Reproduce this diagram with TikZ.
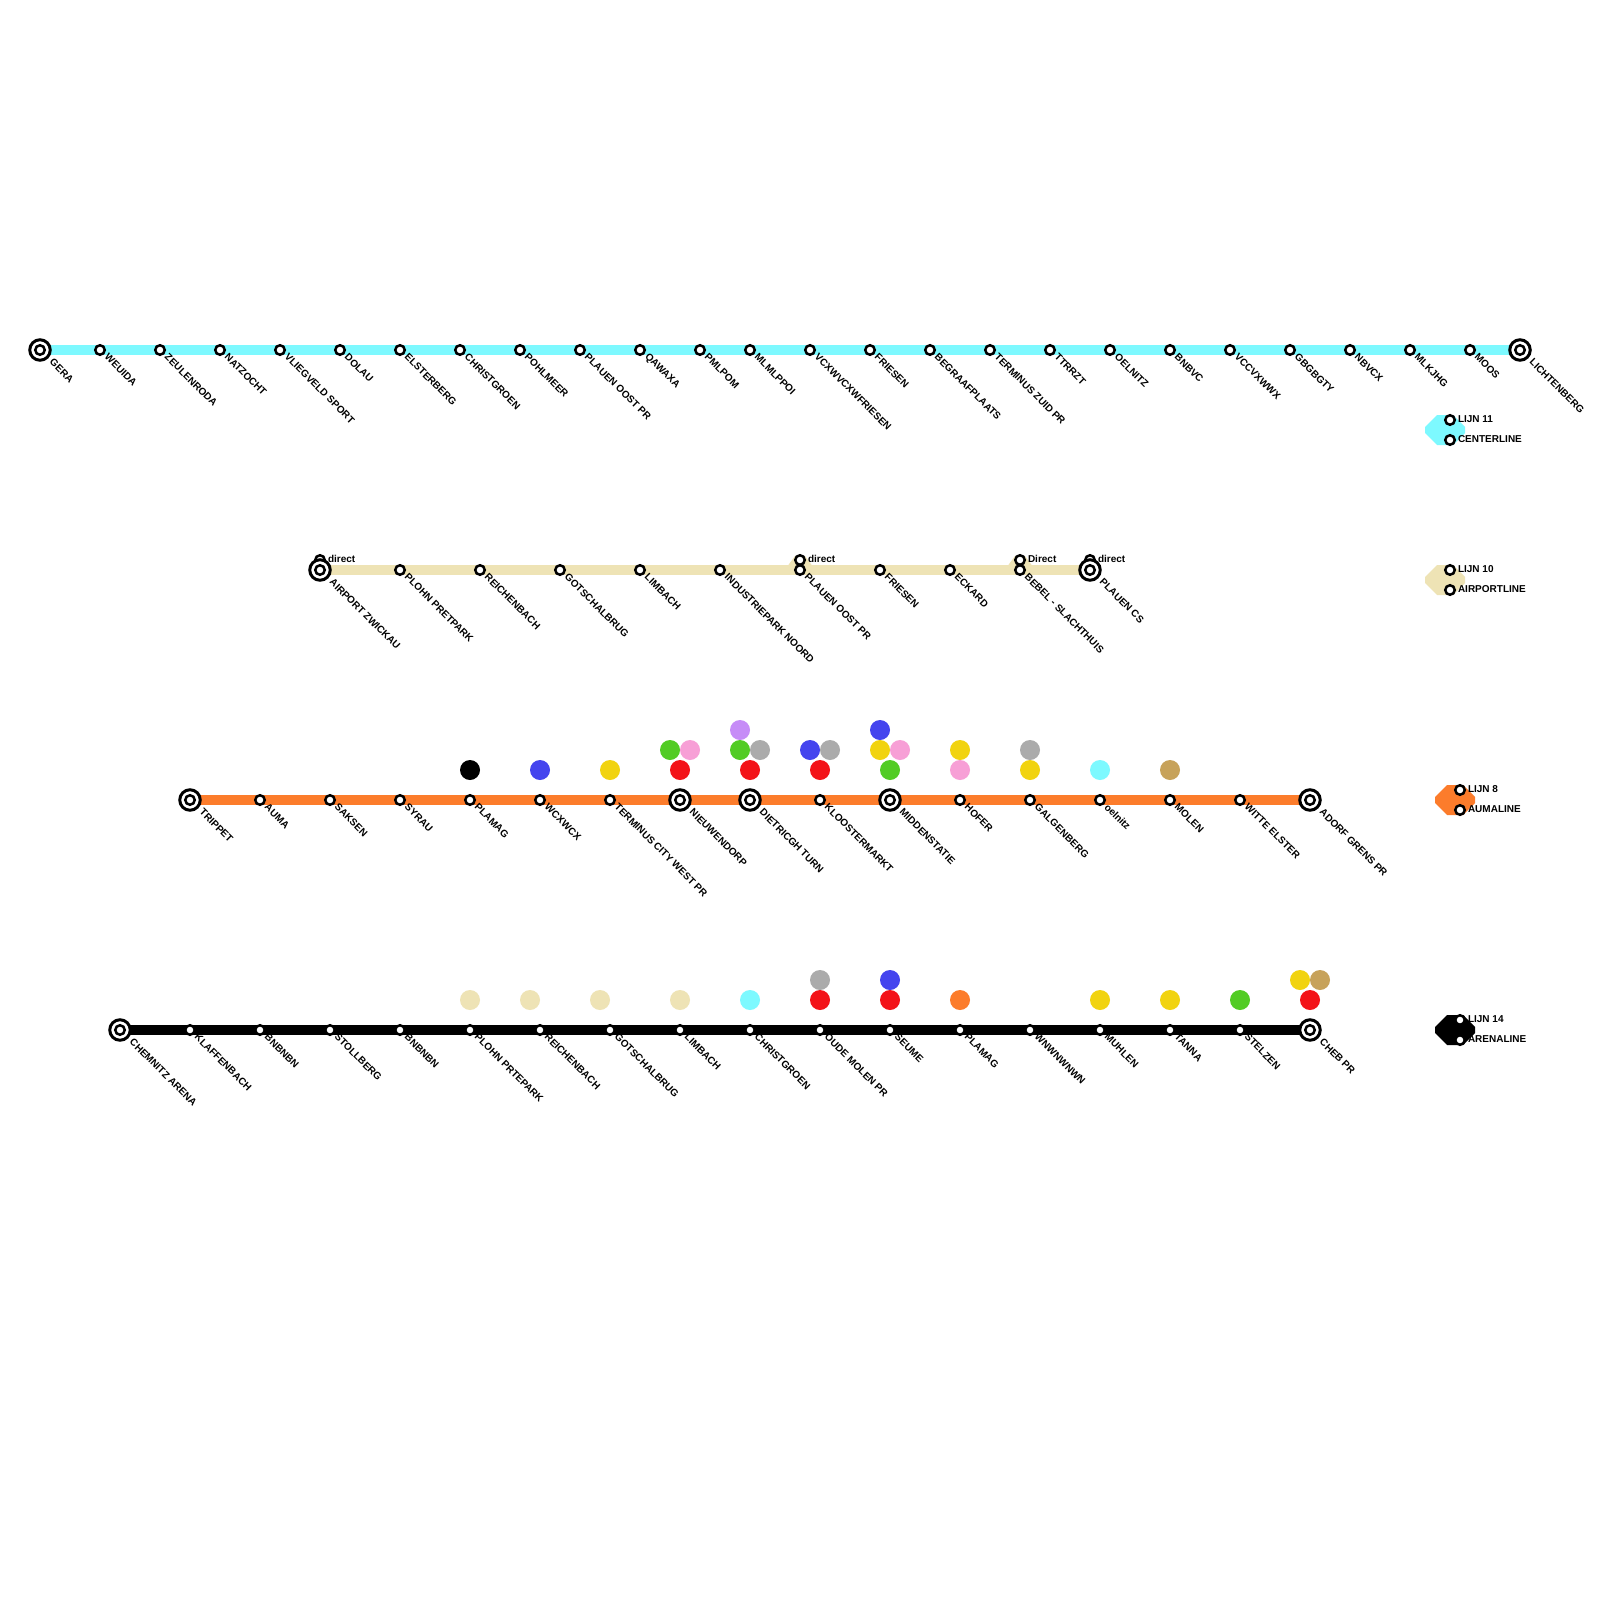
\documentclass[tikz,border=0pt]{standalone}
\usepackage{fontspec}
\setmainfont{Liberation Sans}
\usetikzlibrary{backgrounds}
\definecolor{lcyan}{HTML}{7DF9FF}
\definecolor{lbeige}{HTML}{EEE3B5}
\definecolor{lorange}{HTML}{FC7C2B}
\definecolor{lred}{HTML}{F31318}
\definecolor{lgreen}{HTML}{52CC24}
\definecolor{lpink}{HTML}{F79FD6}
\definecolor{lgray}{HTML}{ABABAB}
\definecolor{lblue}{HTML}{4444EE}
\definecolor{lpurple}{HTML}{C68CF7}
\definecolor{lyellow}{HTML}{F1D30F}
\definecolor{ltan}{HTML}{C7A25A}
\tikzset{
  stopmark/.style={circle,draw=black,fill=white,line width=2.5pt,minimum size=9.5pt,inner sep=0pt,outer sep=0pt},
  hub/.style={circle,draw=black,fill=white,line width=3pt,minimum size=20.5pt,inner sep=0pt,outer sep=0pt},
  txt/.style={font=\fontsize{10pt}{10pt}\selectfont\bfseries,inner sep=0pt,outer sep=0pt,text=black},
  slanted/.style={txt,rotate=-45,anchor=west},
  side/.style={txt,anchor=west},
  colourdot/.style={circle,inner sep=0pt,outer sep=0pt,minimum size=20pt},
  track/.style={line width=10pt},
}
\newcommand{\stoprow}[3]{% prefix, y, list
  \foreach \k/\px/\lbl in {#3}{
    \node[stopmark] (#1\k) at (\px,#2) {};
    \node[slanted] (#1\k t) at (\px+6.5,#2+5.5) {\lbl};
  }}
\newcommand{\hubrow}[3]{%
  \foreach \k/\px/\lbl in {#3}{
    \node[hub] (#1\k) at (\px,#2) {};
    \node[stopmark] (#1\k i) at (\px,#2) {};
    \node[slanted] (#1\k t) at (\px+11.5,#2+10.5) {\lbl};
  }}
\newcommand{\dotrow}[1]{%
  \foreach \n/\cx/\cy/\c in {#1}{
    \node[colourdot,fill=\c] (\n) at (\cx,\cy) {};
  }}
\newcommand{\legendbox}[7]{% prefix,cx,cy,colour,sx,label1,label2
  \fill[#4] (#2-20,#3-3) -- (#2-8,#3-15) -- (#2+8,#3-15) -- (#2+20,#3-3) -- (#2+20,#3+3) -- (#2+8,#3+15) -- (#2-8,#3+15) -- (#2-20,#3+3) -- cycle;
  \node[stopmark] (#1a) at (#5,#3-10) {};
  \node[stopmark] (#1b) at (#5,#3+10) {};
  \node[side] (#1at) at (#5+8,#3-11) {#6};
  \node[side] (#1bt) at (#5+8,#3+9) {#7};
}
\begin{document}
\begin{tikzpicture}[x=1pt,y=-1pt]
\useasboundingbox (0,0) rectangle (1600,1600);
\begin{pgfonlayer}{background}
\fill[white] (0,0) rectangle (1600,1600);
\end{pgfonlayer}

% Line 11
\hubrow{a}{350}{0/40/GERA,24/1520/LICHTENBERG}
\stoprow{a}{350}{1/100/WEUIDA,2/160/ZEULENRODA,3/220/NATZOCHT,4/280/VLIEGVELD SPORT,5/340/DOLAU,6/400/ELSTERBERG,7/460/CHRISTGROEN,8/520/POHLMEER,9/580/PLAUEN OOST PR,10/640/QAWAXA,11/700/PMLPOM,12/750/MLMLPPOI,13/810/VCXWVCXWFRIESEN,14/870/FRIESEN,15/930/BEGRAAFPLAATS,16/990/TERMINUS ZUID PR,17/1050/TTRRZT,18/1110/OELNITZ,19/1170/BNBVC,20/1230/VCCVXWWX,21/1290/GBGBGTY,22/1350/NBVCX,23/1410/MLKJHG,25/1470/MOOS}
\begin{pgfonlayer}{background}
\draw[track,lcyan] (a0.center) -- (a24.center);
\end{pgfonlayer}
\legendbox{la}{1445}{430}{lcyan}{1450}{LIJN 11}{CENTERLINE}

% Line 10
\begin{pgfonlayer}{background}
\fill[lbeige] (788,565.5) -- (795,556) -- (805,556) -- (812,565.5) -- cycle;
\fill[lbeige] (1008,565.5) -- (1015,556) -- (1025,556) -- (1032,565.5) -- cycle;
\end{pgfonlayer}
\foreach \k/\px/\lbl in {1/320/direct,2/800/direct,3/1020/Direct,4/1090/direct}{
  \node[stopmark] (d\k) at (\px,560) {};
  \node[side] (d\k t) at (\px+8,559) {\lbl};
}
\hubrow{b}{570}{0/320/AIRPORT ZWICKAU,10/1090/PLAUEN CS}
\stoprow{b}{570}{1/400/PLOHN PRETPARK,2/480/REICHENBACH,3/560/GOTSCHALBRUG,4/640/LIMBACH,5/720/INDUSTRIEPARK NOORD,6/800/PLAUEN OOST PR,7/880/FRIESEN,8/950/ECKARD,9/1020/BEBEL - SLACHTHUIS}
\begin{pgfonlayer}{background}
\draw[track,lbeige] (b0.center) -- (b10.center);
\end{pgfonlayer}
\legendbox{lb}{1445}{580}{lbeige}{1450}{LIJN 10}{AIRPORTLINE}

% Line 8
\hubrow{c}{800}{0/190/TRIPPET,7/680/NIEUWENDORP,8/750/DIETRICGH TURN,10/890/MIDDENSTATIE,16/1310/ADORF GRENS PR}
\stoprow{c}{800}{1/260/AUMA,2/330/SAKSEN,3/400/SYRAU,4/470/PLAMAG,5/540/WCXWCX,6/610/TERMINUS CITY WEST PR,9/820/KLOOSTERMARKT,11/960/HOFER,12/1030/GALGENBERG,13/1100/oelnitz,14/1170/MOLEN,15/1240/WITTE ELSTER}
\begin{pgfonlayer}{background}
\draw[track,lorange] (c0.center) -- (c16.center);
\end{pgfonlayer}
\legendbox{lc}{1455}{800}{lorange}{1460}{LIJN 8}{AUMALINE}
\dotrow{p1/470/770/black,p2/540/770/lblue,p3/610/770/lyellow,p4/680/770/lred,p5/670/750/lgreen,p6/690/750/lpink,p7/750/770/lred,p8/740/750/lgreen,p9/760/750/lgray,p10/740/730/lpurple,p11/820/770/lred,p12/810/750/lblue,p13/830/750/lgray,p14/890/770/lgreen,p15/880/750/lyellow,p16/900/750/lpink,p17/880/730/lblue,p18/960/770/lpink,p19/960/750/lyellow,p20/1030/770/lyellow,p21/1030/750/lgray,p22/1100/770/lcyan,p23/1170/770/ltan}

% Line 14
\hubrow{e}{1030}{0/120/CHEMNITZ ARENA,17/1310/CHEB PR}
\stoprow{e}{1030}{1/190/KLAFFENBACH,2/260/BNBNBN,3/330/STOLLBERG,4/400/BNBNBN,5/470/PLOHN PRTEPARK,6/540/REICHENBACH,7/610/GOTSCHALBRUG,8/680/LIMBACH,9/750/CHRISTGROEN,10/820/OUDE MOLEN PR,11/890/SEUME,12/960/PLAMAG,13/1030/WNWNWNWN,14/1100/MUHLEN,15/1170/TANNA,16/1240/STELZEN}
\begin{pgfonlayer}{background}
\draw[track,black] (e0.center) -- (e17.center);
\end{pgfonlayer}
\legendbox{le}{1455}{1030}{black}{1460}{LIJN 14}{ARENALINE}
\dotrow{q1/470/1000/lbeige,q2/530/1000/lbeige,q3/600/1000/lbeige,q4/680/1000/lbeige,q5/750/1000/lcyan,q6/820/1000/lred,q7/820/980/lgray,q8/890/1000/lred,q9/890/980/lblue,q10/960/1000/lorange,q11/1100/1000/lyellow,q12/1170/1000/lyellow,q13/1240/1000/lgreen,q14/1310/1000/lred,q15/1300/980/lyellow,q16/1320/980/ltan}
\end{tikzpicture}
\end{document}
